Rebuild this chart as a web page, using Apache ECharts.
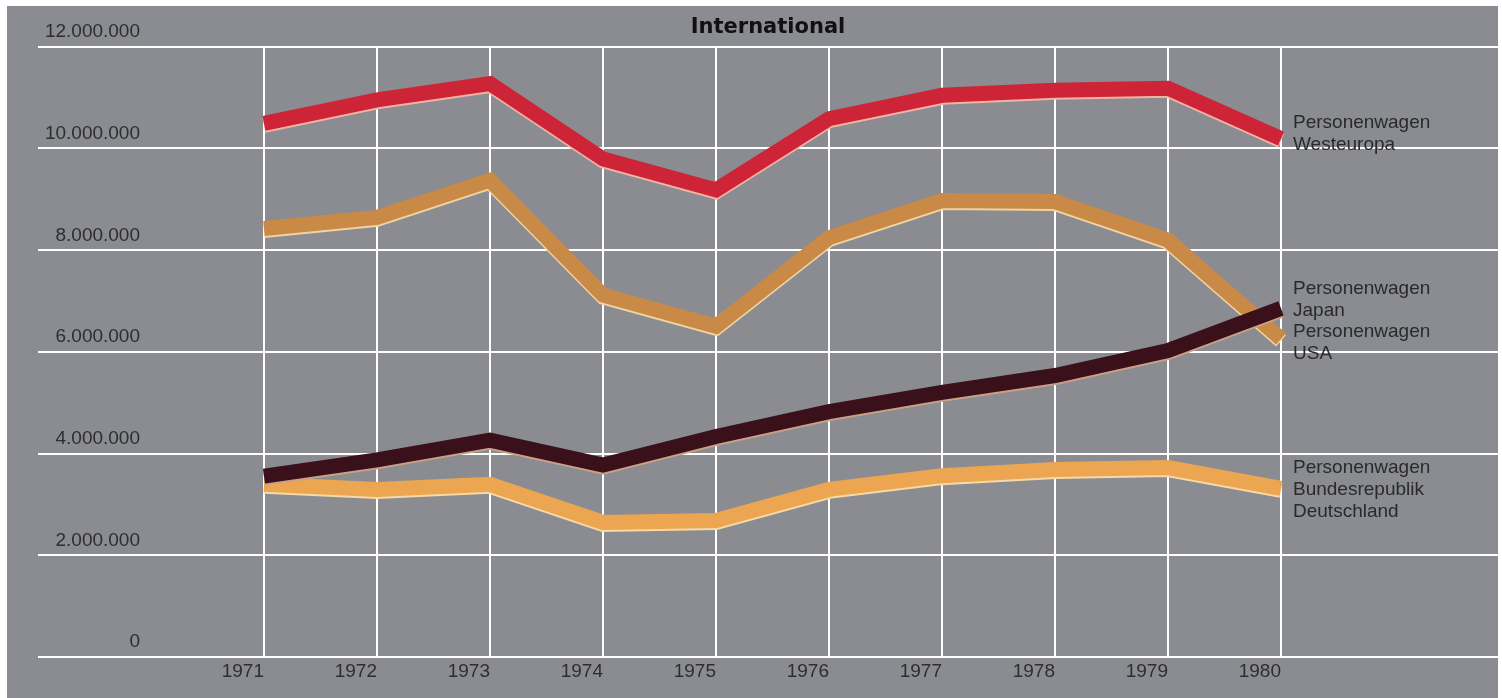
<!DOCTYPE html>
<html>
<head>
<meta charset="utf-8">
<title>International – Personenwagen</title>
<script src="https://cdn.jsdelivr.net/npm/echarts@6/dist/echarts.min.js"></script>
<style>
  html, body { margin: 0; padding: 0; background: #ffffff; }
  #chart {
    position: absolute;
    left: 7px; top: 6px;
    width: 1491px; height: 692px;
    background: #8a8c92;
  }
</style>
</head>
<body>
<div id="chart"></div>
<script>
// Production years shown on the x axis
const years = ['1971', '1972', '1973', '1974', '1975', '1976', '1977', '1978', '1979', '1980'];

// Passenger car production per year
const westeuropa = [10490000, 10950000, 11270000, 9790000, 9180000, 10580000, 11040000, 11140000, 11180000, 10190000];
const usa        = [8420000, 8640000, 9370000, 7110000, 6500000, 8240000, 8970000, 8950000, 8190000, 6250000];
const japan      = [3550000, 3870000, 4260000, 3770000, 4330000, 4820000, 5200000, 5530000, 6020000, 6850000];
const brd        = [3390000, 3290000, 3390000, 2640000, 2680000, 3290000, 3560000, 3680000, 3720000, 3310000];

// Value axis range
const yMin = 0, yMax = 12000000, yStep = 2000000;

// Series names drawn at the right end of the lines
const labelWesteuropa = 'Personenwagen\nWesteuropa';
const labelJapanUsa   = 'Personenwagen\nJapan\nPersonenwagen\nUSA';
const labelBrd        = 'Personenwagen\nBundesrepublik\nDeutschland';
const titleText       = 'International';

function groupThousands(v) {
  return String(v).replace(/\B(?=(\d{3})+(?!\d))/g, '.');
}

const chart = echarts.init(document.getElementById('chart'), null, { renderer: 'canvas' });

const textFont = '"Liberation Sans", Arial, Helvetica, sans-serif';
const gridTop = 40.5, gridBottom = 41.3;

function band(name, data, color, edge, z) {
  return {
    name, type: 'line', data,
    xAxisIndex: 1, yAxisIndex: 1,
    showSymbol: false, symbol: 'none',
    z,
    lineStyle: {
      color, width: 15, join: 'miter', miterLimit: 10, cap: 'butt',
      shadowColor: edge, shadowBlur: 0, shadowOffsetY: 2
    },
    emphasis: { disabled: true }
  };
}

chart.setOption({
  animation: false,
  grid: [
    // wide grid that carries the horizontal rules
    { left: 31, right: 0, top: gridTop, bottom: gridBottom },
    // year grid that carries the vertical rules and the data
    { left: 257, right: 217, top: gridTop, bottom: gridBottom }
  ],
  xAxis: [
    { gridIndex: 0, type: 'value', min: 0, max: 1, show: false },
    {
      gridIndex: 1, type: 'category', data: years, boundaryGap: false,
      axisLine: { show: false }, axisTick: { show: false },
      axisLabel: {
        show: true, interval: 0, align: 'right', margin: 6,
        color: '#2e2e2e', fontSize: 19, lineHeight: 19, fontFamily: textFont
      },
      splitLine: { show: true, interval: 0, lineStyle: { color: '#ffffff', width: 2 } }
    }
  ],
  yAxis: [
    {
      gridIndex: 0, type: 'value', min: yMin, max: yMax, interval: yStep,
      axisLine: { show: false }, axisTick: { show: false }, axisLabel: { show: false },
      splitLine: { show: true, lineStyle: { color: '#ffffff', width: 2 } }
    },
    {
      gridIndex: 1, type: 'value', min: yMin, max: yMax, interval: yStep,
      axisLine: { show: false }, axisTick: { show: false },
      splitLine: { show: false },
      axisLabel: {
        show: true, margin: 124, align: 'right', verticalAlign: 'bottom',
        padding: [0, 0, 5, 0], lineHeight: 19,
        color: '#2e2e2e', fontSize: 19, fontFamily: textFont,
        formatter: groupThousands
      }
    }
  ],
  series: [
    band('Bundesrepublik Deutschland', brd, '#eca651', '#f7d9a6', 3),
    band('USA', usa, '#c98a47', '#f0d3a0', 4),
    band('Japan', japan, '#3a101a', '#c9a184', 5),
    band('Westeuropa', westeuropa, '#cd2537', '#f3b3a4', 6)
  ],
  graphic: [
    {
      type: 'text', x: 761, y: 22, z: 10,
      style: {
        text: titleText, fill: '#111111',
        font: 'bold 21px "DejaVu Sans", sans-serif',
        textAlign: 'center', textVerticalAlign: 'middle'
      }
    },
    {
      type: 'text', x: 1286, y: 106, z: 10,
      style: { text: labelWesteuropa, fill: '#2a2a2a', font: '19px ' + textFont, lineHeight: 22, textVerticalAlign: 'top' }
    },
    {
      type: 'text', x: 1286, y: 272, z: 10,
      style: { text: labelJapanUsa, fill: '#2a2a2a', font: '19px ' + textFont, lineHeight: 21.7, textVerticalAlign: 'top' }
    },
    {
      type: 'text', x: 1286, y: 451, z: 10,
      style: { text: labelBrd, fill: '#2a2a2a', font: '19px ' + textFont, lineHeight: 22, textVerticalAlign: 'top' }
    }
  ]
});
</script>
</body>
</html>
